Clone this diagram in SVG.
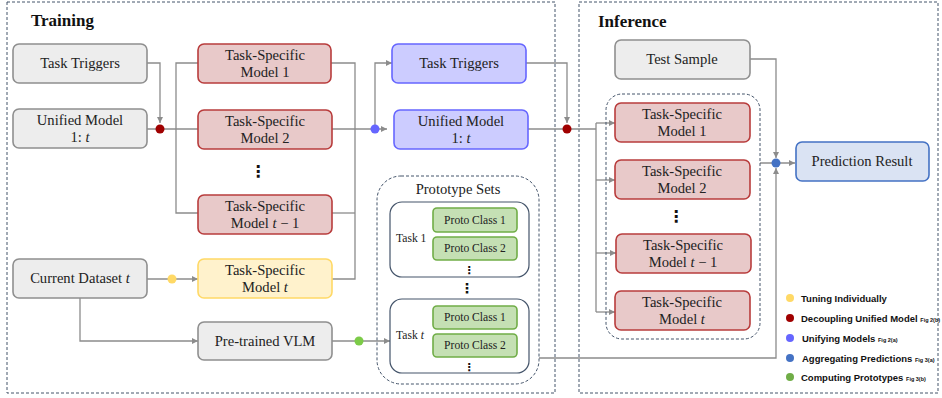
<svg xmlns="http://www.w3.org/2000/svg" width="942" height="398" viewBox="0 0 942 398">
<defs>
<marker id="ar" viewBox="0 0 10 10" refX="10" refY="5" markerWidth="6" markerHeight="6" markerUnits="userSpaceOnUse" orient="auto"><path d="M0,0 L10,5 L0,10 z" fill="#8c8c8c"/></marker>
<style>
.frame{fill:none;stroke:#44546a;stroke-width:1;stroke-dasharray:3 2}
.gray{fill:#ededed;stroke:#8f8f8f;stroke-width:1.6}
.red{fill:#e8c9c9;stroke:#b83c3c;stroke-width:1.6}
.yel{fill:#fff2cc;stroke:#ffd966;stroke-width:1.6}
.vio{fill:#ccccff;stroke:#6666ff;stroke-width:1.6}
.pred{fill:#dae3f3;stroke:#4472c4;stroke-width:1.6}
.proto{fill:#c5e0b4;stroke:#70ad47;stroke-width:1.6}
.task{fill:#fff;stroke:#44546a;stroke-width:1.2}
.c{fill:none;stroke:#8c8c8c;stroke-width:1.3}
.t{font-family:"Liberation Serif","DejaVu Serif",serif;font-size:14.6px;fill:#222;text-anchor:middle}
.ts{font-family:"Liberation Serif","DejaVu Serif",serif;font-size:11.6px;fill:#222}
.h{font-family:"Liberation Serif","DejaVu Serif",serif;font-size:17px;font-weight:bold;fill:#111}
.lg{font-family:"Liberation Sans","Arial",sans-serif;font-size:9.5px;font-weight:bold;fill:#111}
.fig{font-size:5.5px}
.dots{font-family:"DejaVu Sans",sans-serif;font-weight:bold;fill:#111;text-anchor:middle}
.i{font-style:italic}
</style>
</defs>

<rect class="frame" x="7" y="2" width="548" height="391"/>
<rect class="frame" x="579" y="2" width="359" height="391"/>
<text class="h" x="31" y="26">Training</text>
<text class="h" x="598" y="27">Inference</text>

<g id="connectors">
<path class="c" d="M147,63 H160 V123" marker-end="url(#ar)"/>
<path class="c" d="M147,129 H198"/>
<path class="c" d="M198,63 H176 V213 H198"/>
<path class="c" d="M331,63 H355 V279 H332"/>
<path class="c" d="M332,213 H355"/>
<path class="c" d="M332,129 H387" marker-end="url(#ar)"/>
<path class="c" d="M375,129 V63 H392" marker-end="url(#ar)"/>
<path class="c" d="M526,63 H567 V123" marker-end="url(#ar)"/>
<path class="c" d="M528,129 H596"/>
<path class="c" d="M596,123 V312"/>
<path class="c" d="M596,123 H615" marker-end="url(#ar)"/>
<path class="c" d="M596,180 H615" marker-end="url(#ar)"/>
<path class="c" d="M596,253 H616" marker-end="url(#ar)"/>
<path class="c" d="M596,312 H615" marker-end="url(#ar)"/>
<path class="c" d="M147,279 H198" marker-end="url(#ar)"/>
<path class="c" d="M80,298 V341 H198" marker-end="url(#ar)"/>
<path class="c" d="M332,341 H390" marker-end="url(#ar)"/>
<path class="c" d="M539,358 H776 V168" marker-end="url(#ar)"/>
<path class="c" d="M750,59 H776 V158" marker-end="url(#ar)"/>
<path class="c" d="M760,163 H795" marker-end="url(#ar)"/>
<circle cx="160" cy="129" r="4.5" fill="#a00000"/>
<circle cx="375" cy="129" r="4.5" fill="#6666ff"/>
<circle cx="567" cy="129" r="4.5" fill="#a00000"/>
<circle cx="172" cy="279" r="4.5" fill="#ffd966"/>
<circle cx="359" cy="341" r="4.5" fill="#7ccb48"/>
<circle cx="776" cy="163" r="4.5" fill="#4472c4"/>
</g>

<g id="task-triggers"><rect class="gray" x="13" y="44" width="134" height="39" rx="6"/><text class="t" x="80" y="68">Task Triggers</text></g>
<g id="unified-model"><rect class="gray" x="13" y="109" width="134" height="39" rx="6"/><text class="t" x="80" y="125">Unified Model</text><text class="t" x="80" y="142">1: <tspan class="i">t</tspan></text></g>
<g id="current-dataset"><rect class="gray" x="13" y="259" width="134" height="39" rx="6"/><text class="t" x="80" y="283">Current Dataset <tspan class="i">t</tspan></text></g>

<g id="ts-model-1"><rect class="red" x="198" y="44" width="133" height="39" rx="6"/><text class="t" x="265" y="60">Task-Specific</text><text class="t" x="265" y="77">Model 1</text></g>
<g id="ts-model-2"><rect class="red" x="198" y="110" width="134" height="39" rx="6"/><text class="t" x="265" y="126">Task-Specific</text><text class="t" x="265" y="143">Model 2</text></g>
<text class="dots" x="258" y="177" font-size="16">⋮</text>
<g id="ts-model-t-1"><rect class="red" x="198" y="195" width="134" height="39" rx="6"/><text class="t" x="265" y="211">Task-Specific</text><text class="t" x="265" y="228">Model <tspan class="i">t</tspan> − 1</text></g>
<g id="ts-model-t"><rect class="yel" x="198" y="259" width="134" height="39" rx="6"/><text class="t" x="265" y="275">Task-Specific</text><text class="t" x="265" y="292">Model <tspan class="i">t</tspan></text></g>
<g id="pretrained-vlm"><rect class="gray" x="198" y="322" width="134" height="38" rx="6"/><text class="t" x="265" y="346">Pre-trained VLM</text></g>

<g id="unify-task-triggers"><rect class="vio" x="392" y="44" width="134" height="39" rx="6"/><text class="t" x="459" y="68">Task Triggers</text></g>
<g id="unify-unified-model"><rect class="vio" x="394" y="110" width="134" height="39" rx="6"/><text class="t" x="461" y="126">Unified Model</text><text class="t" x="461" y="143">1: <tspan class="i">t</tspan></text></g>

<g id="prototype-sets">
<rect class="frame" x="377" y="176" width="162" height="208" rx="24"/>
<text class="t" x="458" y="194">Prototype Sets</text>
<rect class="task" x="390" y="202" width="139" height="75" rx="12"/>
<text class="ts" x="396" y="242">Task 1</text>
<rect class="proto" x="433" y="208" width="84" height="24" rx="4"/><text class="ts" x="475" y="224" text-anchor="middle">Proto Class 1</text>
<rect class="proto" x="433" y="237" width="84" height="23" rx="4"/><text class="ts" x="475" y="252" text-anchor="middle">Proto Class 2</text>
<text class="dots" x="469" y="274" font-size="11" font-weight="normal">⋮</text>
<text class="dots" x="467" y="293" font-size="14">⋮</text>
<rect class="task" x="390" y="299" width="139" height="74" rx="12"/>
<text class="ts" x="396" y="339">Task <tspan class="i">t</tspan></text>
<rect class="proto" x="433" y="306" width="84" height="23" rx="4"/><text class="ts" x="475" y="321" text-anchor="middle">Proto Class 1</text>
<rect class="proto" x="433" y="334" width="84" height="23" rx="4"/><text class="ts" x="475" y="349" text-anchor="middle">Proto Class 2</text>
<text class="dots" x="469" y="371" font-size="11" font-weight="normal">⋮</text>
</g>

<g id="test-sample"><rect class="gray" x="615" y="40" width="135" height="39" rx="6"/><text class="t" x="682" y="64">Test Sample</text></g>
<g id="inference-models">
<rect class="frame" x="606" y="94" width="154" height="245" rx="16"/>
<g id="inf-ts-model-1"><rect class="red" x="615" y="103" width="135" height="39" rx="6"/><text class="t" x="682" y="119">Task-Specific</text><text class="t" x="682" y="136">Model 1</text></g>
<g id="inf-ts-model-2"><rect class="red" x="615" y="160" width="135" height="39" rx="6"/><text class="t" x="682" y="176">Task-Specific</text><text class="t" x="682" y="193">Model 2</text></g>
<text class="dots" x="676" y="222" font-size="16">⋮</text>
<g id="inf-ts-model-t-1"><rect class="red" x="616" y="234" width="135" height="39" rx="6"/><text class="t" x="683" y="250">Task-Specific</text><text class="t" x="683" y="267">Model <tspan class="i">t</tspan> − 1</text></g>
<g id="inf-ts-model-t"><rect class="red" x="615" y="291" width="135" height="39" rx="6"/><text class="t" x="682" y="307">Task-Specific</text><text class="t" x="682" y="324">Model <tspan class="i">t</tspan></text></g>
</g>
<g id="prediction-result"><rect class="pred" x="796" y="142" width="133" height="39" rx="6"/><text class="t" x="862" y="166">Prediction Result</text></g>

<g id="legend">
<circle cx="790" cy="298" r="4" fill="#ffd966"/><text class="lg" x="801" y="301.5">Tuning Individually</text>
<circle cx="790" cy="318" r="4" fill="#a00000"/><text class="lg" x="801" y="321.5">Decoupling Unified Model <tspan class="fig">Fig 2(b)</tspan></text>
<circle cx="790" cy="338" r="4" fill="#6666ff"/><text class="lg" x="802" y="341.5">Unifying Models <tspan class="fig">Fig 2(a)</tspan></text>
<circle cx="790" cy="358" r="4" fill="#4472c4"/><text class="lg" x="802" y="361.5">Aggregating Predictions <tspan class="fig">Fig 3(a)</tspan></text>
<circle cx="790" cy="377" r="4" fill="#70ad47"/><text class="lg" x="801" y="380.5">Computing Prototypes <tspan class="fig">Fig 3(b)</tspan></text>
</g>
</svg>
